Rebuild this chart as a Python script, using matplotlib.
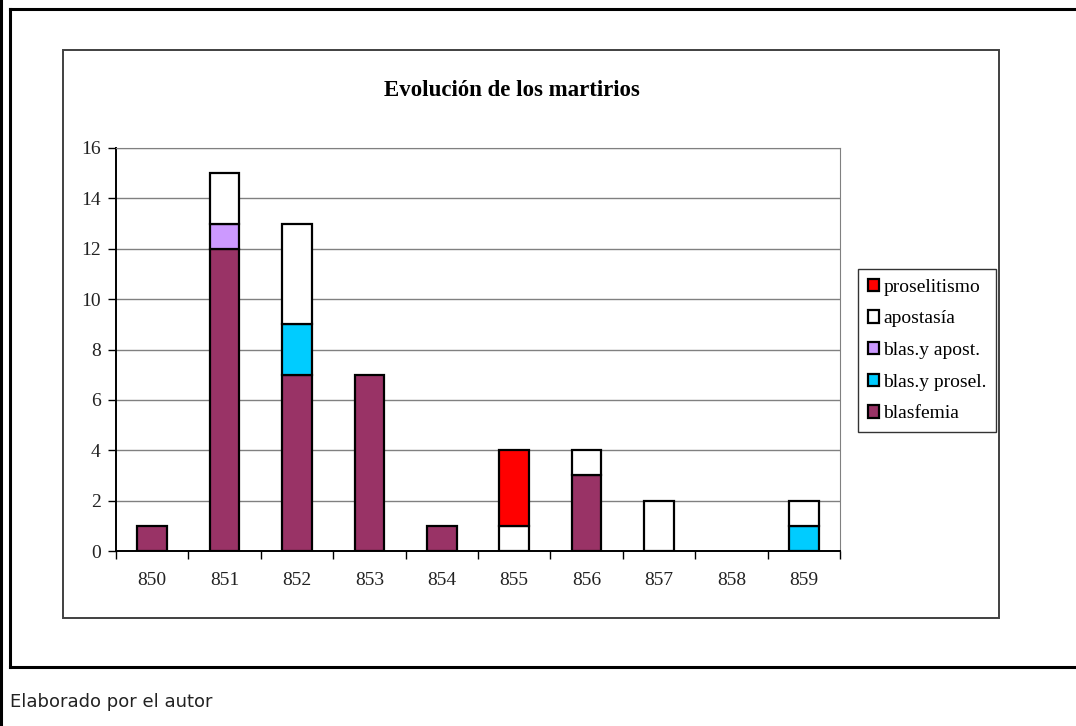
import numpy as np
import matplotlib
matplotlib.use("Agg")
import matplotlib.pyplot as plt
from matplotlib.patches import Rectangle
from matplotlib.lines import Line2D

# ---- données
years = ["850", "851", "852", "853", "854", "855", "856", "857", "858", "859"]
blasfemia = [1, 12, 7, 7, 1, 0, 3, 0, 0, 0]
blas_prosel = [0, 0, 2, 0, 0, 0, 0, 0, 0, 1]
blas_apost = [0, 1, 0, 0, 0, 0, 0, 0, 0, 0]
apostasia = [0, 2, 4, 0, 0, 1, 1, 2, 0, 1]
proselitismo = [0, 0, 0, 0, 0, 3, 0, 0, 0, 0]

series = [
    ("blasfemia", blasfemia, "#993366"),
    ("blas.y prosel.", blas_prosel, "#00CCFF"),
    ("blas.y apost.", blas_apost, "#CC99FF"),
    ("apostasía", apostasia, "#FFFFFF"),
    ("proselitismo", proselitismo, "#FF0000"),
]

W, H = 1076, 726
serif = ["Liberation Serif", "DejaVu Serif"]

fig = plt.figure(figsize=(W / 100, H / 100), dpi=100)


def px_rect(x0, y0, x1, y1, lw, color):
    # rectangle en pixels (origine en haut à gauche)
    r = Rectangle((x0 / W, 1 - y1 / H), (x1 - x0) / W, (y1 - y0) / H,
                  transform=fig.transFigure, fill=False, lw=lw, edgecolor=color)
    fig.add_artist(r)


def px_line(x0, y0, x1, y1, lw, color):
    fig.add_artist(Line2D([x0 / W, x1 / W], [1 - y0 / H, 1 - y1 / H],
                          transform=fig.transFigure, lw=lw, color=color))


# cadres
px_line(1, 0, 1, H, 2.2, "black")
px_line(10, 9, W + 5, 9, 2.2, "black")
px_line(10, 9, 10, 667, 2.2, "black")
px_line(10, 667, W + 5, 667, 2.2, "black")
px_rect(63, 50, 999, 618, 1.4, "#404040")

# ---- axes
x0, x1, ytop, ybot = 116, 840, 148, 551
ax = fig.add_axes([x0 / W, 1 - ybot / H, (x1 - x0) / W, (ybot - ytop) / H])

x = np.arange(len(years))
bottom = np.zeros(len(years))
handles = []
for name, vals, col in series:
    vals = np.array(vals, dtype=float)
    for i in range(len(x)):
        if vals[i] > 0:
            ax.bar(x[i], vals[i], bottom=bottom[i], width=0.41, color=col,
                   edgecolor="black", linewidth=1.6, zorder=3)
    handles.append(Rectangle((0, 0), 1, 1, facecolor=col, edgecolor="black", linewidth=1.6))
    bottom += vals

ax.set_xlim(-0.5, 9.5)
ax.set_ylim(0, 16)
ax.set_yticks(np.arange(0, 17, 2))
ax.set_xticks(x)
ax.set_xticklabels(years)
ax.set_xticks(np.arange(-0.5, 10, 1), minor=True)
ax.grid(axis="y", color="#808080", lw=1, zorder=0)
ax.tick_params(axis="x", which="major", length=0, pad=15, labelsize=14)
ax.tick_params(axis="x", which="minor", length=6, width=1, direction="out")
ax.tick_params(axis="y", length=6, width=1, direction="out", pad=5, labelsize=14)
for lab in ax.get_xticklabels() + ax.get_yticklabels():
    lab.set_family(serif)
    lab.set_color("#222222")
ax.spines["left"].set_color("black")
ax.spines["bottom"].set_color("black")
ax.spines["left"].set_linewidth(1.4)
ax.spines["bottom"].set_linewidth(1.4)
ax.spines["top"].set_color("#808080")
ax.spines["right"].set_color("#808080")

fig.text(512 / W, 1 - 91 / H, "Evolución de los martirios", ha="center", va="center",
         fontsize=16.5, fontweight="bold", family=serif)

leg = fig.legend(handles[::-1], [s[0] for s in series][::-1],
                 loc="upper left", bbox_to_anchor=(858 / W, 1 - 269 / H),
                 bbox_transform=fig.transFigure, borderaxespad=0,
                 prop={"family": serif, "size": 14}, fancybox=False,
                 edgecolor="black", handlelength=0.6, handleheight=0.6,
                 handletextpad=0.2, labelspacing=0.75, borderpad=0.5)
leg.get_frame().set_linewidth(1)

fig.text(10 / W, 1 - 702 / H, "Elaborado por el autor", ha="left", va="center",
         fontsize=13, family=["DejaVu Sans"], color="#222222")

fig.savefig("out.png", dpi=100)
